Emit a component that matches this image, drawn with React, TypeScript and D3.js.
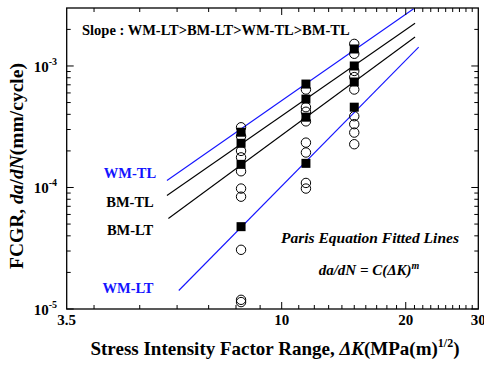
import React from "react";
import * as d3 from "d3";

// ---- data ----
const deltaK = [8.2, 11.45, 15.0];
const wmTL = [2.85e-4, 7.1e-4, 1.38e-3];
const bmTL = [2.31e-4, 5.34e-4, 1.0e-3];
const bmLT = [1.55e-4, 3.79e-4, 7.38e-4];
const wmLT = [4.76e-5, 1.58e-4, 4.58e-4];

const col1Tests = [3.13e-4, 2.64e-4, 2.0e-4, 1.77e-4, 1.36e-4, 9.8e-5, 8.4e-5, 3.07e-5, 1.19e-5, 1.14e-5];
const col2Tests = [6.4e-4, 4.58e-4, 4.2e-4, 3.5e-4, 2.34e-4, 1.94e-4, 1.09e-4, 9.8e-5];
const col3Tests = [1.52e-3, 1.26e-3, 9.1e-4, 8.1e-4, 6.4e-4, 3.86e-4, 3.32e-4, 2.83e-4, 2.27e-4];

const lineK = {
  wmTL: [5.71, 20.9],
  bmTL: [5.71, 21.07],
  bmLT: [5.75, 21.07],
  wmLT: [6.05, 21.5],
};
const lineV = {
  wmTL: [1.14e-4, 2.96e-3],
  bmTL: [8.6e-5, 2.25e-3],
  bmLT: [5.55e-5, 1.73e-3],
  wmLT: [1.42e-5, 1.43e-3],
};

const xTickLabels = [3.5, 10, 20, 30];
const xMinor = [4, 5, 6, 7, 8, 9, 11, 12, 13, 14, 15, 16, 17, 18, 19, 21, 22, 23, 24, 25, 26, 27, 28, 29];
const yMajor = [1e-5, 1e-4, 1e-3];
const yMinor = [2, 3, 4, 5, 6, 7, 8, 9].flatMap((m) => [m * 1e-5, m * 1e-4, m * 1e-3]).filter((v) => v < 3e-3);

const BLUE = "#1414ff";

export default function App() {
  const L = 66.7, R = 478.3, T = 8, B = 309;
  const kScale = d3
    .scaleLinear()
    .domain([Math.log10(3.5), 1, Math.log10(30)])
    .range([L, 281.7, R]);
  const x = (v: number) => kScale(Math.log10(v));
  const y = d3.scaleLog().domain([1e-5, 3e-3]).range([B, T]);
  const line = d3
    .line<[number, number]>()
    .x((d) => x(d[0]))
    .y((d) => y(d[1]));

  const series = [
    { key: "wmTL", color: BLUE },
    { key: "bmTL", color: "#000" },
    { key: "bmLT", color: "#000" },
    { key: "wmLT", color: BLUE },
  ] as const;

  const tests = [col1Tests, col2Tests, col3Tests];
  const squares = [wmTL, bmTL, bmLT, wmLT];
  const font = "'Liberation Serif', 'Times New Roman', serif";

  return (
    <svg width={484} height={367} style={{ position: "absolute", left: 0, top: 0 }} fontFamily={font} fontWeight="bold">
      <rect x={0} y={0} width={484} height={367} fill="#fff" />
      {series.map((s) => (
        <path
          key={s.key}
          d={line(lineK[s.key].map((k, i) => [k, lineV[s.key][i]]) as [number, number][]) || ""}
          stroke={s.color}
          strokeWidth={1.1}
          fill="none"
        />
      ))}
      {tests.map((arr, ci) =>
        arr.map((v, i) => (
          <circle key={`c${ci}-${i}`} cx={x(deltaK[ci])} cy={y(v)} r={4.7} fill="none" stroke="#000" strokeWidth={1} />
        ))
      )}
      {squares.map((arr, si) =>
        arr.map((v, i) => (
          <rect key={`s${si}-${i}`} x={x(deltaK[i]) - 4.5} y={y(v) - 4.5} width={9} height={9} fill="#000" />
        ))
      )}
      <rect x={L} y={T} width={R - L} height={B - T} fill="none" stroke="#000" strokeWidth={1.3} />
      {[10, 20].map((v) => (
        <g key={`xM${v}`}>
          <line x1={x(v)} x2={x(v)} y1={B} y2={B - 7} stroke="#000" />
          <line x1={x(v)} x2={x(v)} y1={T} y2={T + 7} stroke="#000" />
        </g>
      ))}
      {xMinor.map((v) => (
        <g key={`xm${v}`}>
          <line x1={x(v)} x2={x(v)} y1={B} y2={B - 4} stroke="#000" />
          <line x1={x(v)} x2={x(v)} y1={T} y2={T + 4} stroke="#000" />
        </g>
      ))}
      {xTickLabels.map((v) => (
        <text key={`xl${v}`} x={x(v)} y={325} textAnchor="middle" fontSize={15}>
          {v}
        </text>
      ))}
      {yMajor.map((v) => (
        <g key={`yM${v}`}>
          <line x1={L} x2={L + 7} y1={y(v)} y2={y(v)} stroke="#000" />
          <line x1={R} x2={R - 7} y1={y(v)} y2={y(v)} stroke="#000" />
        </g>
      ))}
      {yMinor.map((v) => (
        <g key={`ym${v}`}>
          <line x1={L} x2={L + 4} y1={y(v)} y2={y(v)} stroke="#000" />
          <line x1={R} x2={R - 4} y1={y(v)} y2={y(v)} stroke="#000" />
        </g>
      ))}
      {yMajor.map((v) => (
        <text key={`yl${v}`} x={57} y={y(v) + 6} textAnchor="end" fontSize={15}>
          10
          <tspan dy={-7} fontSize={10}>
            {Math.round(Math.log10(v))}
          </tspan>
        </text>
      ))}
      <text x={275} y={355} textAnchor="middle" fontSize={19}>
        Stress Intensity Factor Range, <tspan fontStyle="italic">ΔK</tspan>(MPa(m)
        <tspan dy={-8} fontSize={12}>1/2</tspan>
        <tspan dy={8}>)</tspan>
      </text>
      <text transform={`translate(23, 166) rotate(-90)`} textAnchor="middle" fontSize={19.5}>
        FCGR, <tspan fontStyle="italic">da</tspan>/<tspan fontStyle="italic">dN</tspan>(mm/cycle)
      </text>
      <text x={82} y={35} fontSize={14.5}>
        Slope : WM-LT&gt;BM-LT&gt;WM-TL&gt;BM-TL
      </text>
      <text x={130} y={178} textAnchor="middle" fontSize={14.5} fill={BLUE}>WM-TL</text>
      <text x={130} y={207} textAnchor="middle" fontSize={14.5}>BM-TL</text>
      <text x={130} y={235} textAnchor="middle" fontSize={14.5}>BM-LT</text>
      <text x={128} y={293} textAnchor="middle" fontSize={14.5} fill={BLUE}>WM-LT</text>
      <text x={370} y={243} textAnchor="middle" fontSize={15.5} fontStyle="italic">
        Paris Equation Fitted Lines
      </text>
      <text x={369} y={275} textAnchor="middle" fontSize={15} fontStyle="italic">
        da/dN = C(ΔK)
        <tspan dy={-6} fontSize={10}>m</tspan>
      </text>
    </svg>
  );
}
